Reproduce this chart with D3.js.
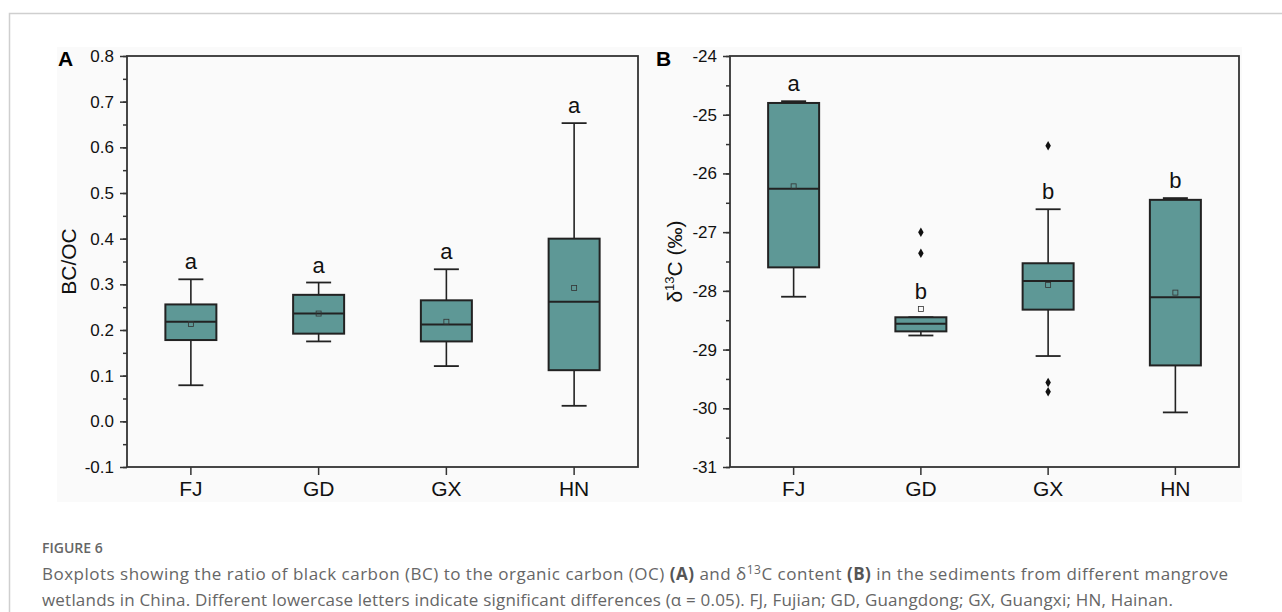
<!DOCTYPE html>
<html>
<head>
<meta charset="utf-8">
<script src="https://cdn.jsdelivr.net/npm/d3@7"></script>
<style>
  html, body { margin: 0; padding: 0; background: #ffffff; }
  svg { display: block; }
</style>
</head>
<body>
<svg id="chart" width="1282" height="612"></svg>
<script>
// ---------------- DATA ----------------
const categories = ["FJ", "GD", "GX", "HN"];

// Panel A: BC/OC
const bcTicks = [-0.1, 0.0, 0.1, 0.2, 0.3, 0.4, 0.5, 0.6, 0.7, 0.8];
const bcWhiskerLow  = [0.079, 0.175, 0.121, 0.034];
const bcQ1          = [0.178, 0.192, 0.175, 0.112];
const bcMedian      = [0.218, 0.236, 0.212, 0.262];
const bcQ3          = [0.256, 0.277, 0.265, 0.400];
const bcWhiskerHigh = [0.311, 0.304, 0.333, 0.653];
const bcMean        = [0.213, 0.236, 0.218, 0.292];
const bcOutliers    = [[], [], [], []];
const bcLetters     = ["a", "a", "a", "a"];

// Panel B: δ13C (‰)
const c13Ticks = [-31, -30, -29, -28, -27, -26, -25, -24];
const c13WhiskerLow  = [-28.10, -28.76, -29.11, -30.07];
const c13Q1          = [-27.60, -28.69, -28.32, -29.27];
const c13Median      = [-26.26, -28.56, -27.83, -28.11];
const c13Q3          = [-24.80, -28.45, -27.53, -26.45];
const c13WhiskerHigh = [-24.77, -28.45, -26.61, -26.42];
const c13Mean        = [-26.22, -28.31, -27.90, -28.03];
const c13Outliers    = [[], [-27.00, -27.36], [-25.53, -29.56, -29.72], []];
const c13Letters     = ["a", "b", "b", "b"];

// ---------------- DRAWING ----------------
const svg = d3.select("#chart");
const BOX_FILL = "#5e9896";
const INK = "#222";
const FRAME = "#333";
const FONT = "'Liberation Sans', Arial, Helvetica, sans-serif";

// figure border
svg.append("path")
  .attr("d", "M9.5,612 L9.5,13.5 L1282,13.5")
  .attr("fill", "none").attr("stroke", "#cfcfcf").attr("stroke-width", 1.5);

// faint image background
svg.append("rect").attr("x", 57).attr("y", 47).attr("width", 1185).attr("height", 455)
  .attr("fill", "#fafafa");

function panel(opt) {
  const { left, right, top, bottom, domain, ticks, minorStep, tickFmt,
          lo, q1, med, q3, hi, mean, outliers, letters } = opt;
  const g = svg.append("g");
  const x = d3.scaleBand().domain(categories).range([left, right]).padding(0);
  const y = d3.scaleLinear().domain(domain).range([bottom, top]);

  // minor ticks
  const minor = d3.range(domain[0], domain[1] + minorStep / 2, minorStep);
  const yMinorAxis = d3.axisLeft(y).tickValues(minor).tickSize(4).tickFormat("");
  const gm = g.append("g").attr("transform", `translate(${left},0)`).call(yMinorAxis);
  gm.select(".domain").remove();
  gm.selectAll("line").attr("stroke", FRAME).attr("stroke-width", 1.5);

  // major y axis
  const yAxis = d3.axisLeft(y).tickValues(ticks).tickSize(7).tickPadding(6).tickFormat(tickFmt);
  const ga = g.append("g").attr("transform", `translate(${left},0)`).call(yAxis);
  ga.select(".domain").remove();
  ga.selectAll("line").attr("stroke", FRAME).attr("stroke-width", 1.5);
  ga.selectAll("text").attr("font-family", FONT).attr("font-size", 17).attr("fill", "#111");

  // x axis
  const xAxis = d3.axisBottom(x).tickSize(8).tickPadding(6);
  const gx = g.append("g").attr("transform", `translate(0,${bottom})`).call(xAxis);
  gx.select(".domain").remove();
  gx.selectAll("line").attr("stroke", FRAME).attr("stroke-width", 1.5);
  gx.selectAll("text").attr("font-family", FONT).attr("font-size", 21).attr("fill", "#111");

  const bw = 51, cap = 25;
  categories.forEach((c, i) => {
    const cx = x(c) + x.bandwidth() / 2;
    // whiskers
    g.append("line").attr("x1", cx).attr("x2", cx).attr("y1", y(q3[i])).attr("y2", y(hi[i]))
      .attr("stroke", INK).attr("stroke-width", 1.6);
    g.append("line").attr("x1", cx).attr("x2", cx).attr("y1", y(q1[i])).attr("y2", y(lo[i]))
      .attr("stroke", INK).attr("stroke-width", 1.6);
    g.append("line").attr("x1", cx - cap / 2).attr("x2", cx + cap / 2).attr("y1", y(hi[i])).attr("y2", y(hi[i]))
      .attr("stroke", INK).attr("stroke-width", 1.8);
    g.append("line").attr("x1", cx - cap / 2).attr("x2", cx + cap / 2).attr("y1", y(lo[i])).attr("y2", y(lo[i]))
      .attr("stroke", INK).attr("stroke-width", 1.8);
    // box
    g.append("rect").attr("x", cx - bw / 2).attr("y", y(q3[i]))
      .attr("width", bw).attr("height", y(q1[i]) - y(q3[i]))
      .attr("fill", BOX_FILL).attr("stroke", INK).attr("stroke-width", 2);
    // median
    g.append("line").attr("x1", cx - bw / 2).attr("x2", cx + bw / 2).attr("y1", y(med[i])).attr("y2", y(med[i]))
      .attr("stroke", INK).attr("stroke-width", 2);
    // mean marker
    g.append("rect").attr("x", cx - 2.5).attr("y", y(mean[i]) - 2.5).attr("width", 5).attr("height", 5)
      .attr("fill", "none").attr("stroke", "#333").attr("stroke-width", 0.8);
    // outliers
    outliers[i].forEach(v => {
      g.append("path").attr("d", d3.symbol().type(d3.symbolDiamond).size(26)())
        .attr("transform", `translate(${cx},${y(v)})`).attr("fill", "#111");
    });
    // significance letter
    const topY = Math.min(y(hi[i]), y(mean[i]), y(q3[i]));
    g.append("text").attr("x", cx).attr("y", topY - 10).attr("text-anchor", "middle")
      .attr("font-family", FONT).attr("font-size", 22).attr("fill", "#111").text(letters[i]);
  });

  // frame
  g.append("rect").attr("x", left).attr("y", top).attr("width", right - left).attr("height", bottom - top)
    .attr("fill", "none").attr("stroke", FRAME).attr("stroke-width", 1.8);
  return { x, y, g };
}

const pA = panel({
  left: 127, right: 638, top: 56, bottom: 467,
  domain: [-0.1, 0.8], ticks: bcTicks, minorStep: 0.05, tickFmt: d => d.toFixed(1),
  lo: bcWhiskerLow, q1: bcQ1, med: bcMedian, q3: bcQ3, hi: bcWhiskerHigh, mean: bcMean,
  outliers: bcOutliers, letters: bcLetters
});
const pB = panel({
  left: 730, right: 1239, top: 56, bottom: 467,
  domain: [-31, -24], ticks: c13Ticks, minorStep: 0.5, tickFmt: d => String(d),
  lo: c13WhiskerLow, q1: c13Q1, med: c13Median, q3: c13Q3, hi: c13WhiskerHigh, mean: c13Mean,
  outliers: c13Outliers, letters: c13Letters
});

// panel letters
svg.append("text").attr("x", 58).attr("y", 66).attr("font-family", FONT).attr("font-weight", "bold")
  .attr("font-size", 21).attr("fill", "#000").text("A");
svg.append("text").attr("x", 656).attr("y", 66).attr("font-family", FONT).attr("font-weight", "bold")
  .attr("font-size", 21).attr("fill", "#000").text("B");

// y axis titles
svg.append("text").attr("transform", "translate(76,261.5) rotate(-90)").attr("text-anchor", "middle")
  .attr("font-family", FONT).attr("font-size", 21).attr("fill", "#111").text("BC/OC");
const t2 = svg.append("text").attr("transform", "translate(682,261.5) rotate(-90)").attr("text-anchor", "middle")
  .attr("font-family", FONT).attr("font-size", 21).attr("fill", "#111");
t2.append("tspan").text("δ");
t2.append("tspan").attr("dy", -8).attr("font-size", 13).text("13");
t2.append("tspan").attr("dy", 8).text("C (‰)");

// caption
const CAP_FONT = "'Open Sans', 'Noto Sans', sans-serif";
svg.append("text").attr("x", 42).attr("y", 553).attr("font-family", CAP_FONT).attr("font-weight", 600)
  .attr("font-size", 14).attr("fill", "#666").text("FIGURE 6");
const l1 = svg.append("text").attr("x", 42).attr("y", 580).attr("font-family", CAP_FONT)
  .attr("font-size", 17).attr("fill", "#666");
l1.append("tspan").text("Boxplots showing the ratio of black carbon (BC) to the organic carbon (OC) ");
l1.append("tspan").attr("font-weight", 700).attr("fill", "#555").text("(A)");
l1.append("tspan").text(" and δ");
l1.append("tspan").attr("dy", -6).attr("font-size", 12).text("13");
l1.append("tspan").attr("dy", 6).text("C content ");
l1.append("tspan").attr("font-weight", 700).attr("fill", "#555").text("(B)");
l1.append("tspan").text(" in the sediments from different mangrove");
const l2 = svg.append("text").attr("x", 42).attr("y", 606).attr("font-family", CAP_FONT)
  .attr("font-size", 17).attr("fill", "#666")
  .text("wetlands in China. Different lowercase letters indicate significant differences (α = 0.05). FJ, Fujian; GD, Guangdong; GX, Guangxi; HN, Hainan.");

// stretch caption lines to the widths they occupy in the figure
function fitWidth(sel, target) {
  const node = sel.node();
  const len = node.getComputedTextLength();
  const n = node.textContent.length;
  if (n > 1) sel.attr("letter-spacing", ((target - len) / (n - 1)).toFixed(3));
}
fitWidth(l1, 1186);
fitWidth(l2, 1131);
</script>
</body>
</html>
